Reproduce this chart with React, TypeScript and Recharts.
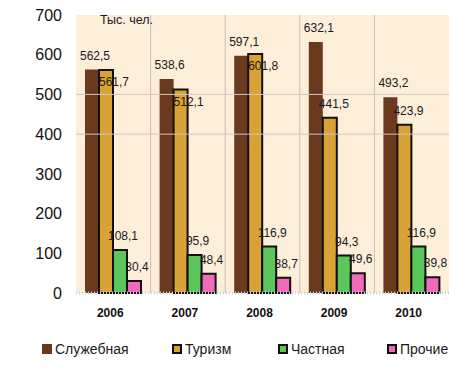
import React from 'react';
import { BarChart, Bar, XAxis, YAxis, CartesianGrid, LabelList, Legend, ReferenceLine } from 'recharts';

const years = ['2006', '2007', '2008', '2009', '2010'];
const sluzhebnaya = [562.5, 538.6, 597.1, 632.1, 493.2];
const turizm = [561.7, 512.1, 601.8, 441.5, 423.9];
const chastnaya = [108.1, 95.9, 116.9, 94.3, 116.9];
const prochie = [30.4, 48.4, 38.7, 49.6, 39.8];
const yTicks = [0, 100, 200, 300, 400, 500, 600, 700];
const gridValues = [400, 500];
const seriesNames = ['Служебная', 'Туризм', 'Частная', 'Прочие'];
const unitLabel = 'Тыс. чел.';

const data = years.map((year, i) => ({
  year,
  s: sluzhebnaya[i],
  t: turizm[i],
  c: chastnaya[i],
  p: prochie[i],
}));

const FONT = '"Liberation Sans", Arial, sans-serif';
const colors = ['#6B3A1E', '#D9A236', '#5CC65C', '#F06CB8'];
const strokes = ['none', '#111111', '#111111', '#111111'];
const legendWidths = [130, 106, 109, 49];

// label shifts (style only)
const defaultShift = { dx: 3, dy: -10 };
const turizmShiftDx = [8, 8, 8, 4, 4];
const turizmShiftDy = [16, 16, 16, -10, -10];

const fmt = (v: number) => Number(v).toFixed(1).replace('.', ',');

const makeLabel = (dxs?: number[], dys?: number[]) => (props: any) => {
  const { x, y, width, value, index } = props;
  const dx = dxs ? dxs[index] : defaultShift.dx;
  const dy = dys ? dys[index] : defaultShift.dy;
  return (
    <text
      x={Number(x) + Number(width) / 2 + dx}
      y={Number(y) + dy}
      textAnchor="middle"
      fontSize={12}
      fontFamily={FONT}
      fill="#1a1a1a"
    >
      {fmt(value)}
    </text>
  );
};

const renderLegend = () => (
  <div style={{ display: 'flex', fontFamily: FONT, fontSize: 14, color: '#1a1a1a', whiteSpace: 'nowrap' }}>
    {seriesNames.map((name, i) => (
      <div key={name} style={{ width: legendWidths[i], display: 'flex', alignItems: 'center', height: 20, flexShrink: 0 }}>
        <span
          style={{
            display: 'inline-block',
            width: 10,
            height: 10,
            background: colors[i],
            border: strokes[i] === 'none' ? 'none' : `2px solid ${strokes[i]}`,
            boxSizing: 'border-box',
            marginRight: 3,
            flexShrink: 0,
          }}
        />
        <span>{name}</span>
      </div>
    ))}
  </div>
);

export default function App() {
  return (
    <div style={{ position: 'absolute', left: 0, top: 0, width: 449, height: 374, overflow: 'hidden', background: '#fff' }}>
      <BarChart
        width={449}
        height={374}
        data={data}
        margin={{ top: 15, right: 0, left: 0, bottom: 0 }}
        barSize={14}
        barGap={0}
      >
        <CartesianGrid
          horizontal={false}
          vertical={true}
          stroke="#C4BEBE"
          fill="#FDEEDA"
          verticalCoordinatesGenerator={(p: any) =>
            [1, 2, 3, 4].map((i) => p.offset.left + (i * p.offset.width) / 5)
          }
        />
        {gridValues.map((v) => (
          <ReferenceLine key={v} y={v} stroke="#D4C4C4" strokeWidth={1} />
        ))}
        <XAxis
          dataKey="year"
          height={81}
          tickSize={0}
          tickMargin={15}
          axisLine={{ stroke: '#D0D4E2', strokeWidth: 3, strokeDasharray: '1 2' }}
          tick={{ fontSize: 12, fontWeight: 700, fontFamily: FONT, fill: '#111', dx: -3 }}
        />
        <YAxis
          width={76}
          domain={[0, 700]}
          ticks={yTicks}
          interval={0}
          tickSize={0}
          tickMargin={14}
          axisLine={false}
          tick={{ fontSize: 16, fontFamily: FONT, fill: '#111' }}
        />
        <Legend
          layout="horizontal"
          verticalAlign="middle"
          align="center"
          content={renderLegend}
          wrapperStyle={{ left: 42, top: 339, width: 406, height: 20 }}
        />
        <Bar dataKey="s" name={seriesNames[0]} fill={colors[0]} stroke={strokes[0]} isAnimationActive={false}>
          <LabelList dataKey="s" content={makeLabel()} />
        </Bar>
        <Bar dataKey="t" name={seriesNames[1]} fill={colors[1]} stroke={strokes[1]} strokeWidth={2} isAnimationActive={false}>
          <LabelList dataKey="t" content={makeLabel(turizmShiftDx, turizmShiftDy)} />
        </Bar>
        <Bar dataKey="c" name={seriesNames[2]} fill={colors[2]} stroke={strokes[2]} strokeWidth={2} isAnimationActive={false}>
          <LabelList dataKey="c" content={makeLabel()} />
        </Bar>
        <Bar dataKey="p" name={seriesNames[3]} fill={colors[3]} stroke={strokes[3]} strokeWidth={2} isAnimationActive={false}>
          <LabelList dataKey="p" content={makeLabel()} />
        </Bar>
      </BarChart>
      <div
        style={{
          position: 'absolute',
          left: 100,
          top: 13,
          fontFamily: FONT,
          fontSize: 12.5,
          color: '#1a1a1a',
          lineHeight: '14px',
        }}
      >
        {unitLabel}
      </div>
    </div>
  );
}
